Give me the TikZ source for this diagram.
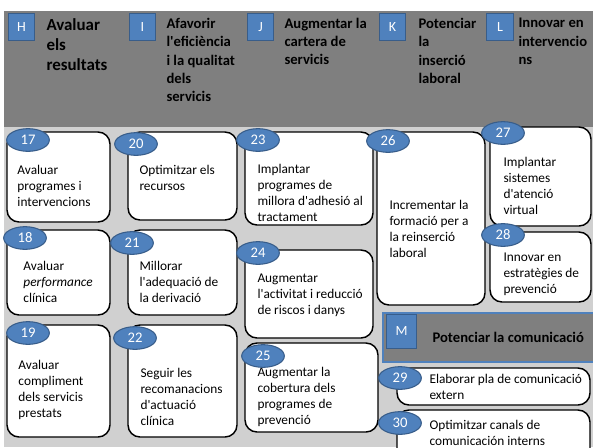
\documentclass[tikz,border=0pt]{standalone}
\usepackage{fontspec}
\setmainfont{Carlito}[Ligatures=TeXOff]
\usetikzlibrary{shapes.geometric}

\definecolor{hdrgrey}{RGB}{127,127,127}
\definecolor{bggrey}{RGB}{208,208,208}
\definecolor{blobblue}{RGB}{79,129,189}
\definecolor{blobedge}{RGB}{56,93,138}

\tikzset{every picture/.style={line width=0.75pt}}

\begin{document}
\begin{tikzpicture}[x=0.75pt,y=0.75pt,yscale=-1,xscale=1,
	taskbox/.style={draw=black,fill=white,line width=1.1pt,rounded corners=9pt},
	numblob/.style={ellipse,draw=blobedge,fill=blobblue,line width=0.8pt,minimum width=32pt,minimum height=17pt,inner sep=0pt,text=white,font=\fontsize{11}{13}\selectfont},
	lettersq/.style={draw=blobedge,fill=blobblue,line width=0.8pt,minimum size=20pt,inner sep=0pt,text=white,font=\fontsize{10.5}{12}\selectfont},
	tasktxt/.style={anchor=west,align=left,inner sep=0pt,font=\fontsize{10}{12}\selectfont},
	headtxt/.style={anchor=west,align=left,inner sep=0pt,font=\bfseries\fontsize{11}{13.75}\selectfont}]
	\path[use as bounding box,clip] (0,0) rectangle (593,447); %set diagram size

	%Shape: Rectangle [header band]
	\draw [draw=none,fill=hdrgrey] (4,11) rectangle (593,127) ;
	%Shape: Rectangle [background]
	\draw [draw=none,fill=bggrey] (4,127) rectangle (593,447) ;

	% Letter squares
	\node [lettersq] (sqH) at (21.5,27) {H};
	\node [lettersq] (sqI) at (142.5,27) {I};
	\node [lettersq] (sqJ) at (260.5,27) {J};
	\node [lettersq] (sqK) at (392.5,27) {K};
	\node [lettersq] (sqL) at (500,27) {L};

	% Text Node
	\node [headtxt,font=\bfseries\fontsize{12.7}{15}\selectfont] (hH) at (46,45) {Avaluar\\els\\resultats};
	% Text Node
	\node [headtxt] (hI) at (166,60) {Afavorir\\l'eficiència\\i la qualitat\\dels\\servicis};
	% Text Node
	\node [headtxt] (hJ) at (284,41.5) {Augmentar la\\cartera de\\servicis};
	% Text Node
	\node [headtxt] (hK) at (418,51) {Potenciar\\la\\inserció\\laboral};
	% Text Node
	\node [headtxt] (hL) at (518,41.5) {Innovar en\\intervencio\\ns};

	%Rounded Rect
	\draw [taskbox] (7,132) rectangle (110,222) ;
	\draw [taskbox] (128,132) rectangle (237,220) ;
	\draw [taskbox] (245,132) rectangle (373,225) ;
	\draw [taskbox] (377,132) rectangle (485,305) ;
	\draw [taskbox] (490,127) rectangle (591,226) ;
	\draw [taskbox] (7,230) rectangle (110,315) ;
	\draw [taskbox] (128,230) rectangle (237,315) ;
	\draw [taskbox] (245,250) rectangle (373,338) ;
	\draw [taskbox] (490,232) rectangle (591,302) ;
	\draw [taskbox] (7,325) rectangle (110,437) ;
	\draw [taskbox] (128,325) rectangle (237,437) ;
	\draw [taskbox] (245,343) rectangle (378,432) ;
	\draw [taskbox] (397,368) rectangle (590,405) ;
	\draw [taskbox] (397,410) rectangle (590,470) ;

	%Shape: Rectangle [communication header]
	\draw [draw=blobblue,fill=hdrgrey,line width=1.1pt] (383,313) rectangle (597,362) ;
	\node [lettersq,minimum width=22pt,minimum height=25pt] (sqM) at (401.5,331.5) {M};
	% Text Node
	\node [headtxt] (hM) at (432,337) {Potenciar la comunicació};

	% Text Node
	\node [tasktxt] (t17) at (17,186) {Avaluar\\programes i\\intervencions};
	\node [tasktxt] (t20) at (139,177.5) {Optimitzar els\\recursos};
	\node [tasktxt] (t23) at (257,193) {Implantar\\programes de\\millora d'adhesió al\\tractament};
	\node [tasktxt] (t26) at (389,229) {Incrementar la\\formació per a\\la reinserció\\laboral};
	\node [tasktxt] (t27) at (503,186) {Implantar\\sistemes\\d'atenció\\virtual};
	\node [tasktxt] (t18) at (23,282) {Avaluar\\\textit{performance}\\clínica};
	\node [tasktxt] (t21) at (139,282) {Millorar\\l'adequació de\\la derivació};
	\node [tasktxt] (t24) at (257,295.5) {Augmentar\\l'activitat i reducció\\de riscos i danys};
	\node [tasktxt] (t28) at (503,274) {Innovar en\\estratègies de\\prevenció};
	\node [tasktxt] (t19) at (18,390) {Avaluar\\compliment\\dels servicis\\prestats};
	\node [tasktxt] (t22) at (140,397) {Seguir les\\recomanacions\\d'actuació\\clínica};
	\node [tasktxt] (t25) at (257,397) {Augmentar la\\cobertura dels\\programes de\\prevenció};
	\node [tasktxt] (t29) at (429,387) {Elaborar pla de comunicació\\extern};
	\node [tasktxt] (t30) at (429,433) {Optimitzar canals de\\comunicación interns};

	% Number blobs
	\node [numblob] (n17) at (28,140) {17};
	\node [numblob] (n20) at (136,144) {20};
	\node [numblob] (n23) at (258,140) {23};
	\node [numblob] (n26) at (388,141) {26};
	\node [numblob] (n27) at (503,133) {27};
	\node [numblob] (n18) at (25,238) {18};
	\node [numblob] (n21) at (132,243) {21};
	\node [numblob] (n24) at (258,253) {24};
	\node [numblob] (n28) at (503,235) {28};
	\node [numblob] (n19) at (28,333) {19};
	\node [numblob] (n22) at (135,338) {22};
	\node [numblob] (n25) at (263,356) {25};
	\node [numblob] (n29) at (400,378) {29};
	\node [numblob] (n30) at (400,423) {30};

\end{tikzpicture}
\end{document}
